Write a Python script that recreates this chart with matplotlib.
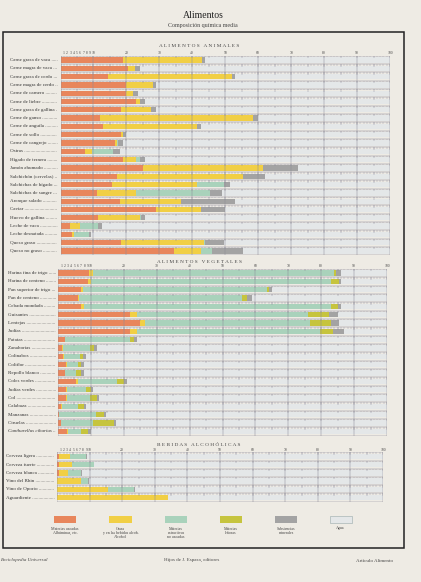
import numpy as np
import matplotlib.pyplot as plt
from matplotlib.patches import Rectangle
from matplotlib.transforms import blended_transform_factory

plt.rcParams['font.family'] = ['Liberation Serif', 'DejaVu Serif']

W, H = 421, 582

# component colours
c_prot = '#e8865c'
c_fat = '#f1cf45'
c_carb = '#a9d2bb'
c_fib = '#c6c43e'
c_min = '#a3a3a3'
c_water = '#e4e7e8'
paper = '#eeebe4'
rule = '#8a8799'
colors = [c_prot, c_fat, c_carb, c_fib, c_min, c_water]

# Alimentos animales (percent)
animal_names = ['Carne grasa de vaca', 'Carne magra de vaca', 'Carne grasa de cerdo',
                'Carne magra de cerdo', 'Carne de carnero', 'Carne de liebre',
                'Carne grasa de gallina', 'Carne de ganso', 'Carne de anguila',
                'Carne de sollo', 'Carne de cangrejo', 'Ostras', 'Hígado de ternera',
                'Jamón ahumado', 'Salchichón (cervelas)', 'Salchichas de hígado',
                'Salchichas de sangre', 'Arenque salado', 'Caviar', 'Huevo de gallina',
                'Leche de vaca', 'Leche desnatada', 'Queso graso', 'Queso no graso']
animal_prot = [19, 20.5, 14.5, 20, 20, 23, 18.5, 12, 13, 18.5, 16.5, 7.5, 19, 25, 17, 15.5,
               11, 18, 29, 11.5, 3, 3.5, 18.5, 34.5]
animal_fat = [24, 2, 37.5, 8, 2, 1, 9, 46.5, 28.5, 0.5, 0.5, 2, 4, 36.5, 38.5, 26,
              12, 18.5, 13.5, 12.5, 3, 0.5, 25, 8]
animal_carb = [0, 0, 0, 0, 0, 0, 0, 0, 0, 0, 0.5, 6.5, 1, 0, 0, 8,
               22.5, 0, 0, 0.5, 5.5, 4.5, 0.5, 3.5]
animal_fib = [0] * 24
animal_min = [1, 1.5, 1, 1, 1.5, 1.5, 1.5, 1.5, 1, 1, 1.5, 2, 1.5, 10.5, 6.5, 2,
              3.5, 16.5, 7.5, 1, 1, 0.7, 5.5, 9.5]
animal_water = [56, 76, 47, 71, 76.5, 74.5, 71, 40, 57.5, 80, 81, 82, 74.5, 28, 38, 48.5,
                51, 47, 50, 74.5, 87.5, 90.8, 50.5, 44.5]

# Alimentos vegetales
veg_names = ['Harina fina de trigo', 'Harina de centeno', 'Pan superior de trigo',
             'Pan de centeno', 'Cebada mondada', 'Guisantes', 'Lentejas', 'Judías',
             'Patatas', 'Zanahorias', 'Colinabos', 'Coliflor', 'Repollo blanco',
             'Coles verdes', 'Judías verdes', 'Col', 'Calabaza', 'Manzanas',
             'Ciruelas', 'Cantharellus cibarius']
veg_prot = [9.5, 9, 7, 6, 7, 22, 25, 22, 2, 1.2, 1.5, 2.5, 2, 5.5, 2.5, 2.5, 1, 0.4, 0.8, 2.8]
veg_fat = [1, 1, 0.5, 0.5, 1, 2, 1.5, 2, 0.2, 0.3, 0.2, 0.3, 0.2, 0.5, 0.2, 0.3, 0.1, 0, 0, 0.2]
veg_carb = [73.5, 73, 56, 49.5, 75, 52, 50, 55.5, 19.8, 8.1, 4.9, 3.2, 3.3, 12, 5.8, 6.8,
            4.9, 11.2, 9.8, 4]
veg_fib = [0.5, 2.5, 0.5, 1.5, 2, 6.5, 6.5, 4, 1, 1.4, 1, 1, 1.5, 2, 1.5, 2.4, 2, 2.4, 6.4, 2]
veg_min = [1.5, 0.5, 1, 1.5, 1, 2.5, 2.5, 3.5, 1, 1, 1, 1, 1, 1, 0.6, 0.6, 0.5, 0.5, 0.7, 1]
veg_water = [14, 14, 35, 41, 14, 15, 14.5, 13, 76, 88, 91.4, 92, 92, 79, 89.4, 87.4,
             91.5, 85.5, 82.3, 90]

# Bebidas alcohólicas
drink_names = ['Cerveza ligera', 'Cerveza fuerte', 'Cerveza blanca', 'Vino del Rhin',
               'Vino de Oporto', 'Aguardiente']
drink_prot = [0.5, 0.7, 0.5, 0, 0, 0]
drink_alc = [3.5, 4, 3, 7.5, 15.5, 34]
drink_carb = [5, 6.5, 4, 2, 8, 0]
drink_fib = [0, 0, 0, 0, 0, 0]
drink_min = [0.2, 0.3, 0.2, 0.2, 0.3, 0]
drink_water = [90.8, 88.5, 92.3, 90.3, 76.2, 66]

legend_labels = ['Materias azoadas\nAlbúminas, etc.', 'Grasa\ny en las bebidas alcoh.\nAlcohol',
                 'Materias\nextractivas\nno azoadas', 'Materias\nleñosas',
                 'Substancias\nminerales', 'Agua']

fig = plt.figure(figsize=(W / 100, H / 100), dpi=100)
fig.patch.set_facecolor(paper)
renderer = fig.canvas.get_renderer()


def fx(px):
    return px / W


def fy(py):
    return 1 - py / H


def panel(x0, x1, y_first, y_last, names, series, label_x, label_end, heading, head_y):
    n = len(names)
    step = (y_last - y_first) / (n - 1)
    top = y_first - step / 2
    bottom = y_last + step / 2
    ax = fig.add_axes([fx(x0), fy(bottom), fx(x1 - x0), (bottom - top) / H])
    ax.set_facecolor('none')
    y = np.arange(n)
    left = np.zeros(n)
    for vals, col in zip(series, colors):
        vals = np.array(vals, dtype=float)
        ax.barh(y, vals, left=left, height=0.64, color=col, lw=0, zorder=1)
        left += vals
    # ruler lines with unit ticks
    for k in np.arange(n + 1) - 0.5:
        ax.hlines(k, 0, 100, color=rule, lw=0.35, zorder=2)
        ax.vlines(np.arange(0, 101, 1), k, k + 0.17, color=rule, lw=0.25, zorder=2)
        ax.vlines(np.arange(0, 101, 5), k, k + 0.3, color=rule, lw=0.3, zorder=2)
    ax.vlines(np.arange(0, 101, 10), -0.5, n - 0.5, color='#8c8c96', lw=0.35, zorder=2)
    ax.set_xlim(0, 100)
    ax.set_ylim(n - 0.5, -0.5)
    for s in ax.spines.values():
        s.set_visible(False)
    ax.set_yticks([])
    ticks = list(range(1, 10)) + list(range(10, 101, 10))
    ax.set_xticks(ticks, [str(t) for t in ticks])
    ax.xaxis.tick_top()
    ax.tick_params(axis='x', length=0, pad=0.4, labelsize=2.7, colors='#444')
    # row labels with leader dots
    tr = blended_transform_factory(fig.transFigure, ax.transData)
    dot = fig.text(0, 0, '.' * 20, fontsize=3.6)
    dot_w = dot.get_window_extent(renderer).width / 20
    dot.remove()
    for i, name in enumerate(names):
        style = 'italic' if name.startswith('Cantharellus') else 'normal'
        t = ax.text(fx(label_x), i, name, transform=tr, ha='left', va='center',
                    fontsize=3.6, color='#333', style=style)
        w = t.get_window_extent(renderer).width
        nd = int((label_end - label_x - w - 1.5) / dot_w)
        if nd > 0:
            t.set_text(name + ' ' + '.' * nd)
    fig.text(fx(199), fy(head_y), heading, ha='center', va='center', fontsize=3.8,
             color='#444')
    return ax


def spaced(s):
    return '   '.join(' '.join(w) for w in s.split())


panel(60.5, 390, 60, 251, animal_names,
      [animal_prot, animal_fat, animal_carb, animal_fib, animal_min, animal_water],
      10, 58, spaced('ALIMENTOS ANIMALES'), 46)
panel(58, 387, 273, 431.5, veg_names,
      [veg_prot, veg_fat, veg_carb, veg_fib, veg_min, veg_water],
      7.5, 56, spaced('ALIMENTOS VEGETALES'), 262)
panel(57, 383, 456.5, 497.5, drink_names,
      [drink_prot, drink_alc, drink_carb, drink_fib, drink_min, drink_water],
      6, 55, spaced('BEBIDAS ALCOHÓLICAS'), 444.5)

# titles
fig.text(fx(203), fy(16), 'Alimentos', ha='center', va='center', fontsize=7, color='#222')
fig.text(fx(203), fy(25), 'Composición química media', ha='center', va='center',
         fontsize=4.3, color='#444')

# frame
fig.patches.append(Rectangle((fx(3), fy(548)), fx(401), (548 - 32) / H,
                             transform=fig.transFigure, fill=False, lw=1.1, ec='#222'))

# legend
centers = [65, 120.5, 176, 231, 286, 340.5]
for cx, col, lab in zip(centers, colors, legend_labels):
    ec = '#9aa' if col == c_water else 'none'
    fig.patches.append(Rectangle((fx(cx - 11), fy(523)), fx(22), 7 / H,
                                 transform=fig.transFigure, fc=col, ec=ec, lw=0.4))
    fig.text(fx(cx), fy(526.5), lab, ha='center', va='top', fontsize=2.9,
             color='#444', linespacing=1.15)

# footer
fig.text(fx(0.5), fy(560), 'Enciclopedia Universal', ha='left', va='center',
         fontsize=3.6, style='italic', color='#444')
fig.text(fx(192), fy(560), 'Hijos de J. Espasa, editores', ha='center', va='center',
         fontsize=3.6, color='#444')
fig.text(fx(393), fy(561), 'Artículo Alimento', ha='right', va='center',
         fontsize=3.6, color='#444')

fig.savefig('out.png', dpi=100, facecolor=paper)
